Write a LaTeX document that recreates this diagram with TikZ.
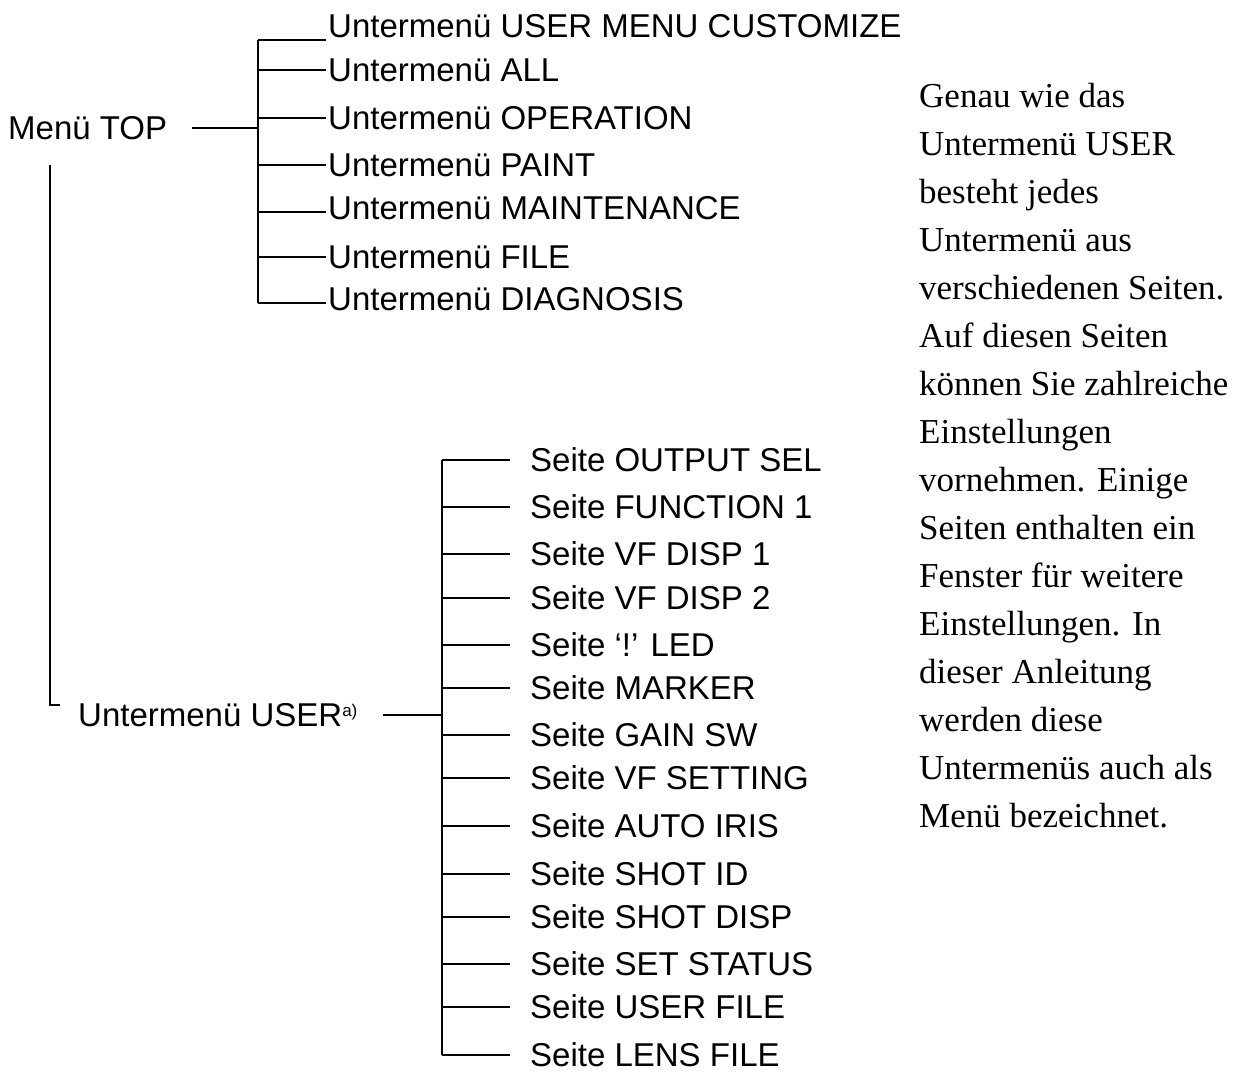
\documentclass[tikz,border=0pt]{standalone}
\usepackage{fontspec}
\setmainfont{Liberation Serif}
\newfontfamily\sansf{Liberation Sans}
\begin{document}
\begin{tikzpicture}[x=1pt,y=-1pt,
  lab/.style={anchor=west,inner sep=0pt,font=\sansf\fontsize{33}{33}\selectfont},
  ln/.style={line width=1.6pt}]
\useasboundingbox (0,0) rectangle (1254,1081);
\node[lab] (top) at (8,128) {Menü TOP};
\coordinate (tj) at (258,128);
\draw[ln] (192,128) -- (tj);
\draw[ln] (258,40) -- (258,303);
\foreach \y/\t [count=\i] in {26/USER MENU CUSTOMIZE,70/ALL,118/OPERATION,165/PAINT,208/MAINTENANCE,257/FILE,299/DIAGNOSIS}{
  \node[lab] (s\i) at (328,\y) {Untermenü \t};
}
\foreach \y in {40,70,118,165,212,257,303}{\draw[ln] (258,\y) -- (326,\y);}
\draw[ln] (50,165) -- (50,705) -- (60,705);
\node[lab] (user) at (78,715) {Untermenü USER\raisebox{0.3em}{\fontsize{17}{17}\selectfont a)}};
\draw[ln] (383,715) -- (442,715);
\draw[ln] (442,460) -- (442,1055);
\foreach \y/\t [count=\i] in {460/OUTPUT SEL,507/FUNCTION 1,554/VF DISP 1,598/VF DISP 2,645/‘!’ LED,688/MARKER,735/GAIN SW,778/VF SETTING,826/AUTO IRIS,874/SHOT ID,917/SHOT DISP,964/SET STATUS,1007/USER FILE,1055/LENS FILE}{
  \node[lab] (p\i) at (530,\y) {Seite \t};
  \draw[ln] (442,\y) -- (510,\y);
}
\node[anchor=north west,inner sep=0pt,align=left,font=\fontsize{35}{48}\selectfont] (txt) at (919,83) {Genau wie das\\Untermenü USER\\besteht jedes\\Untermenü aus\\verschiedenen Seiten.\\Auf diesen Seiten\\können Sie zahlreiche\\Einstellungen\\vornehmen. Einige\\Seiten enthalten ein\\Fenster für weitere\\Einstellungen. In\\dieser Anleitung\\werden diese\\Untermenüs auch als\\Menü bezeichnet.};
\end{tikzpicture}
\end{document}
